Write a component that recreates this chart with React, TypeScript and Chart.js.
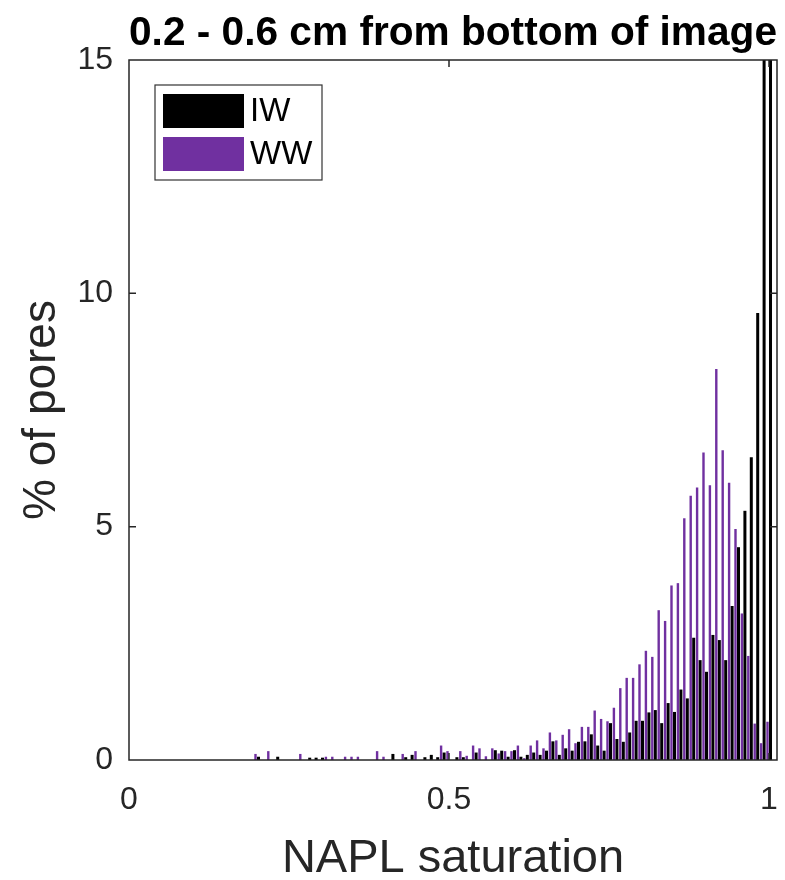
import React, { useEffect, useRef } from "react";
import { Chart, registerables } from "chart.js";

Chart.register(...registerables);

// Bin centres (NAPL saturation)
const binCenters = [
  0.0, 0.01, 0.02, 0.03, 0.04, 0.05, 0.06, 0.07, 0.08, 0.09,
  0.1, 0.11, 0.12, 0.13, 0.14, 0.15, 0.16, 0.17, 0.18, 0.19,
  0.2, 0.21, 0.22, 0.23, 0.24, 0.25, 0.26, 0.27, 0.28, 0.29,
  0.3, 0.31, 0.32, 0.33, 0.34, 0.35, 0.36, 0.37, 0.38, 0.39,
  0.4, 0.41, 0.42, 0.43, 0.44, 0.45, 0.46, 0.47, 0.48, 0.49,
  0.5, 0.51, 0.52, 0.53, 0.54, 0.55, 0.56, 0.57, 0.58, 0.59,
  0.6, 0.61, 0.62, 0.63, 0.64, 0.65, 0.66, 0.67, 0.68, 0.69,
  0.7, 0.71, 0.72, 0.73, 0.74, 0.75, 0.76, 0.77, 0.78, 0.79,
  0.8, 0.81, 0.82, 0.83, 0.84, 0.85, 0.86, 0.87, 0.88, 0.89,
  0.9, 0.91, 0.92, 0.93, 0.94, 0.95, 0.96, 0.97, 0.98, 0.99,
  1.0,
];

// % of pores, IW (black)
const iwValues = [
  0, 0, 0, 0, 0, 0, 0, 0, 0, 0,
  0, 0, 0, 0, 0, 0, 0, 0, 0, 0,
  0.07, 0, 0, 0.07, 0, 0, 0, 0, 0.05, 0.05,
  0.05, 0, 0, 0, 0, 0, 0, 0, 0, 0,
  0, 0.13, 0, 0.06, 0.11, 0, 0.06, 0.11, 0.06, 0.16,
  0, 0.06, 0.06, 0, 0.16, 0, 0, 0.21, 0.2, 0.07,
  0.21, 0.07, 0.11, 0.16, 0.11, 0.2, 0.4, 0.11, 0.25, 0.2,
  0.39, 0.4, 0.55, 0.31, 0.2, 0.79, 0.45, 0.39, 0.59, 0.84,
  0.84, 1.02, 1.07, 0.79, 1.22, 1.03, 1.51, 1.32, 2.62, 2.14,
  1.89, 2.68, 2.57, 2.14, 3.3, 4.56, 5.34, 6.49, 9.58, 22.5,
  38,
];

// % of pores, WW (purple)
const wwValues = [
  0, 0, 0, 0, 0, 0, 0, 0, 0, 0,
  0, 0, 0, 0, 0, 0, 0, 0, 0, 0,
  0.13, 0, 0.19, 0, 0, 0, 0, 0.13, 0, 0,
  0, 0.07, 0.07, 0, 0.07, 0.07, 0.07, 0, 0, 0.19,
  0.07, 0, 0, 0.13, 0, 0.19, 0, 0, 0, 0.31,
  0.19, 0, 0.19, 0.09, 0.31, 0.25, 0.08, 0.25, 0.14, 0.19,
  0.19, 0.31, 0.04, 0.31, 0.42, 0.25, 0.59, 0.42, 0.54, 0.66,
  0.36, 0.71, 0.71, 1.06, 0.88, 0.83, 1.12, 1.54, 1.76, 1.76,
  2.05, 2.34, 2.21, 3.21, 2.98, 3.74, 3.79, 5.18, 5.66, 5.84,
  6.59, 5.89, 8.38, 6.64, 5.94, 4.95, 3.14, 2.23, 0.78, 0.36,
  0.82,
];

const xTicks = [0, 0.5, 1];
const yTicks = [0, 5, 10, 15];
const seriesLabels = ["IW", "WW"];
const seriesColors = ["#000000", "#7030A0"];

const titleText = "0.2 - 0.6 cm from bottom of image";
const xTitle = "NAPL saturation";
const yTitle = "% of pores";

const FONT = "'Liberation Sans', Arial, Helvetica, sans-serif";
const AXIS_COLOR = "#262626";

const framePlugin = {
  id: "frameTicks",
  afterDatasetsDraw(chart: any) {
    const { ctx, chartArea, scales } = chart;
    const { left, right, top, bottom } = chartArea;
    const tl = 7;
    ctx.save();
    ctx.strokeStyle = AXIS_COLOR;
    ctx.lineWidth = 1.5;
    ctx.beginPath();
    scales.x.ticks.forEach((t: any) => {
      const px = scales.x.getPixelForValue(t.value);
      if (px <= left + 1 || px >= right - 1) return;
      ctx.moveTo(px, bottom);
      ctx.lineTo(px, bottom - tl);
      ctx.moveTo(px, top);
      ctx.lineTo(px, top + tl);
    });
    scales.y.ticks.forEach((t: any) => {
      const py = scales.y.getPixelForValue(t.value);
      if (py <= top + 1 || py >= bottom - 1) return;
      ctx.moveTo(left, py);
      ctx.lineTo(left + tl, py);
      ctx.moveTo(right, py);
      ctx.lineTo(right - tl, py);
    });
    ctx.stroke();
    ctx.strokeRect(left, top, right - left, bottom - top);
    ctx.restore();
  },
};

const legendPlugin = {
  id: "insideLegend",
  afterDraw(chart: any) {
    const { ctx, chartArea } = chart;
    const bx = chartArea.left + 26;
    const by = chartArea.top + 25;
    const bw = 167;
    const bh = 95;
    ctx.save();
    ctx.fillStyle = "#ffffff";
    ctx.fillRect(bx, by, bw, bh);
    ctx.strokeStyle = "#333333";
    ctx.lineWidth = 1.2;
    ctx.strokeRect(bx, by, bw, bh);
    ctx.font = `33px ${FONT}`;
    ctx.textBaseline = "middle";
    ctx.textAlign = "left";
    seriesLabels.forEach((lab, i) => {
      const py = by + 9 + i * 43;
      ctx.fillStyle = seriesColors[i];
      ctx.fillRect(bx + 8, py, 81, 34);
      ctx.fillStyle = "#000000";
      ctx.fillText(lab, bx + 95, py + 18);
    });
    ctx.restore();
  },
};

export default function App() {
  const canvasRef = useRef<HTMLCanvasElement | null>(null);

  useEffect(() => {
    const canvas = canvasRef.current;
    if (!canvas) return;
    const chart = new Chart(canvas, {
      type: "bar",
      data: {
        datasets: [
          {
            label: seriesLabels[1],
            data: binCenters.map((x, i) => ({ x, y: wwValues[i] })),
            backgroundColor: seriesColors[1],
            borderWidth: 0,
            barPercentage: 0.8,
            categoryPercentage: 0.94,
          },
          {
            label: seriesLabels[0],
            data: binCenters.map((x, i) => ({ x, y: iwValues[i] })),
            backgroundColor: seriesColors[0],
            borderWidth: 0,
            barPercentage: 1,
            categoryPercentage: 0.94,
          },
        ],
      },
      options: {
        responsive: false,
        animation: false,
        devicePixelRatio: 1,
        layout: { padding: { top: 0, right: 8, bottom: 0, left: 0 } },
        plugins: {
          legend: { display: false },
          tooltip: { enabled: false },
          title: {
            display: true,
            text: titleText,
            fullSize: false,
            color: "#000000",
            font: { family: FONT, size: 41, weight: "bold", lineHeight: 1 },
            padding: { top: 13, bottom: 6 },
          },
        },
        scales: {
          x: {
            type: "linear",
            min: 0,
            max: 1.0125,
            offset: false,
            grid: { display: false, drawTicks: false },
            border: { display: false },
            afterBuildTicks: (scale: any) => {
              scale.ticks = xTicks.map((v) => ({ value: v }));
            },
            afterFit: (scale: any) => {
              scale.height = 120;
              scale.paddingLeft = 0;
              scale.paddingRight = 0;
            },
            ticks: {
              color: AXIS_COLOR,
              font: { family: FONT, size: 32, lineHeight: 1 },
              padding: 24,
              maxRotation: 0,
              callback: (v: any) => String(v),
            },
            title: {
              display: true,
              text: xTitle,
              color: AXIS_COLOR,
              font: { family: FONT, size: 47, lineHeight: 1 },
              padding: { top: 0, bottom: -3 },
            },
          },
          y: {
            type: "linear",
            min: 0,
            max: 15,
            grid: { display: false, drawTicks: false },
            border: { display: false },
            afterBuildTicks: (scale: any) => {
              scale.ticks = yTicks.map((v) => ({ value: v }));
            },
            afterFit: (scale: any) => {
              scale.width = 129;
              scale.paddingTop = 0;
              scale.paddingBottom = 0;
            },
            ticks: {
              color: AXIS_COLOR,
              font: { family: FONT, size: 32, lineHeight: 1 },
              padding: 16,
              callback: (v: any) => String(v),
            },
            title: {
              display: true,
              text: yTitle,
              color: AXIS_COLOR,
              font: { family: FONT, size: 46, lineHeight: 1 },
              padding: { top: 19, bottom: 0 },
            },
          },
        },
      },
      plugins: [framePlugin, legendPlugin],
    });
    return () => chart.destroy();
  }, []);

  return (
    <div style={{ position: "absolute", left: 0, top: 0, width: 785, height: 880, background: "#ffffff" }}>
      <canvas ref={canvasRef} width={785} height={880} style={{ display: "block" }} />
    </div>
  );
}
